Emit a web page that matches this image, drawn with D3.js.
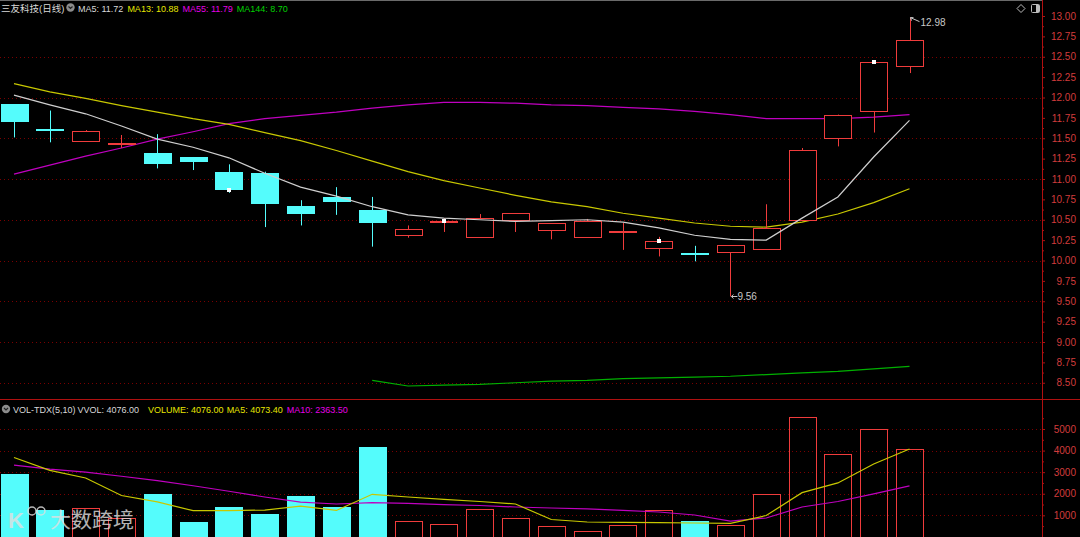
<!DOCTYPE html>
<meta charset="utf-8">
<style>
  body { margin: 0; background: #000; overflow: hidden; }
  svg { display: block; font-family: "Liberation Sans", Arial, "Noto Sans CJK SC", sans-serif; }
</style>
<body>
<script src="https://d3js.org/d3.v7.min.js"></script>
<script>

// daily candles, oldest first
const open  = [11.92, 11.61, 11.47, 11.42, 11.32, 11.27, 11.09, 11.07, 10.67, 10.78, 10.62, 10.31, 10.47, 10.29, 10.50, 10.37, 10.29, 10.34, 10.15, 10.09, 10.10, 10.14, 10.50, 11.50, 11.83, 12.39];
const high  = [11.92, 11.84, 11.60, 11.54, 11.55, 11.27, 11.18, 11.09, 10.74, 10.90, 10.78, 10.43, 10.52, 10.57, 10.58, 10.46, 10.51, 10.46, 10.29, 10.18, 10.19, 10.69, 11.38, 11.79, 12.44, 12.98];
const low   = [11.51, 11.45, 11.46, 11.38, 11.13, 11.11, 10.83, 10.41, 10.43, 10.56, 10.17, 10.28, 10.35, 10.29, 10.35, 10.26, 10.29, 10.13, 10.05, 9.99, 9.56, 10.14, 10.50, 11.40, 11.57, 12.30];
const close = [11.70, 11.58, 11.59, 11.43, 11.18, 11.21, 10.87, 10.69, 10.57, 10.72, 10.46, 10.39, 10.48, 10.52, 10.58, 10.46, 10.48, 10.35, 10.24, 10.07, 10.19, 10.40, 11.35, 11.79, 12.43, 12.71];

// moving averages
const ma5   = [12.03, 11.91, 11.80, 11.65, 11.49, 11.39, 11.26, 11.07, 10.90, 10.79, 10.66, 10.56, 10.52, 10.50, 10.48, 10.49, 10.50, 10.47, 10.40, 10.31, 10.26, 10.25, 10.52, 10.78, 11.27, 11.72];
const ma13  = [12.17, 12.07, 11.99, 11.90, 11.82, 11.74, 11.67, 11.57, 11.47, 11.35, 11.22, 11.09, 10.98, 10.89, 10.80, 10.72, 10.66, 10.58, 10.52, 10.46, 10.42, 10.41, 10.47, 10.57, 10.71, 10.88];
const ma55  = [11.06, 11.17, 11.28, 11.38, 11.49, 11.58, 11.68, 11.74, 11.78, 11.82, 11.87, 11.91, 11.94, 11.94, 11.93, 11.91, 11.90, 11.88, 11.86, 11.83, 11.79, 11.74, 11.74, 11.74, 11.76, 11.79];
const ma144 = [null, null, null, null, null, null, null, null, null, null, 8.53, 8.46, 8.47, 8.48, 8.50, 8.52, 8.53, 8.55, 8.56, 8.57, 8.58, 8.60, 8.62, 8.64, 8.67, 8.70];

// volume panel
const volume  = [2900, 1250, 1325, 860, 1990, 680, 1370, 1060, 1890, 1370, 4170, 740, 605, 1290, 860, 500, 290, 540, 1250, 720, 565, 1975, 5560, 3830, 5000, 4076];
const volMa5  = [3680, 3080, 2730, 1920, 1620, 1215, 1215, 1245, 1430, 1225, 1975, 1850, 1735, 1640, 1525, 805, 690, 675, 665, 645, 630, 990, 2050, 2500, 3380, 4073.4];
const volMa10 = [3330, 3145, 3005, 2810, 2610, 2370, 2115, 1850, 1615, 1525, 1585, 1550, 1500, 1455, 1385, 1340, 1295, 1225, 1155, 1015, 735, 875, 1385, 1640, 1990, 2363.5];

// candles with a white marker on the close
const marked = [6, 12, 18, 24];

const priceTicks = d3.range(8.5, 13.001, 0.25);
const priceGrid  = d3.range(8.5, 12.501, 0.5);
const volTicks   = [1000, 2000, 3000, 4000, 5000];

const W = 1080, H = 537;
const axisX = 1042;
const RED = "#f03c3c", CYAN = "#54fcfc", GRID = "#7a0000", AXIS = "#b01010", LABEL = "#d23c3c";

const svg = d3.select("body").append("svg")
  .attr("width", W).attr("height", H);

svg.append("rect").attr("width", W).attr("height", H).attr("fill", "#000");

const idx = d3.range(close.length);
const x = d3.scalePoint().domain(idx).range([14, 909.5]);
const y = d3.scaleLinear().domain([8.5, 13]).range([382.75, 16]);
const yv = d3.scaleLinear().domain([0, 5000]).range([536.9, 429]);
const half = 13.5;
const px = v => Math.round(v) + 0.5;

// frame lines
svg.append("line").attr("x1", 0).attr("x2", axisX).attr("y1", 0.5).attr("y2", 0.5)
  .attr("stroke", "#6a6a6a");
svg.append("line").attr("x1", 0).attr("x2", W).attr("y1", 399.5).attr("y2", 399.5)
  .attr("stroke", AXIS);
svg.append("line").attr("x1", axisX + 0.5).attr("x2", axisX + 0.5).attr("y1", 0).attr("y2", H)
  .attr("stroke", AXIS);

// dotted grid
svg.append("g").selectAll("line").data(priceGrid).join("line")
  .attr("x1", 0).attr("x2", axisX)
  .attr("y1", d => px(y(d))).attr("y2", d => px(y(d)))
  .attr("stroke", GRID).attr("stroke-dasharray", "1,3");
svg.append("g").selectAll("line").data(volTicks).join("line")
  .attr("x1", 0).attr("x2", axisX)
  .attr("y1", d => px(yv(d))).attr("y2", d => px(yv(d)))
  .attr("stroke", GRID).attr("stroke-dasharray", "1,3");

// right axes
function styleAxis(g) {
  g.select(".domain").remove();
  g.selectAll(".tick line").attr("stroke", AXIS);
  g.selectAll(".tick text").attr("fill", LABEL).attr("text-anchor", "end")
    .attr("x", 34).style("font-size", "10px").style("font-family", "'Liberation Sans', Arial, sans-serif");
}
svg.append("g").attr("transform", `translate(${axisX},0)`)
  .call(d3.axisRight(y).tickValues(priceTicks).tickFormat(d3.format(".2f")).tickSize(3).tickSizeOuter(0))
  .call(styleAxis);
svg.append("g").attr("transform", `translate(${axisX},0)`)
  .call(d3.axisRight(y).tickValues(priceTicks.slice(0, -1).map(d => d + 0.125)).tickFormat("").tickSize(2).tickSizeOuter(0))
  .call(styleAxis);
svg.append("g").attr("transform", `translate(${axisX},0)`)
  .call(d3.axisRight(yv).tickValues(volTicks).tickFormat(d3.format("d")).tickSize(3).tickSizeOuter(0))
  .call(styleAxis);
svg.append("g").attr("transform", `translate(${axisX},0)`)
  .call(d3.axisRight(yv).tickValues(volTicks.map(d => d - 500).concat([5500])).tickFormat("").tickSize(2).tickSizeOuter(0))
  .call(styleAxis);

// moving average lines
function maLine(data, scale, color) {
  svg.append("path")
    .datum(data.map((v, i) => [i, v]))
    .attr("fill", "none").attr("stroke", color).attr("stroke-width", 1.2)
    .attr("d", d3.line().defined(d => d[1] != null).x(d => x(d[0])).y(d => scale(d[1])));
}
maLine(ma55, y, "#c000c0");
maLine(ma13, y, "#c8c800");
maLine(ma144, y, "#00b000");

// candles
const isUp = i => close[i] >= open[i];
const cg = svg.append("g");
cg.selectAll("line").data(idx).join("line")
  .attr("x1", i => px(x(i))).attr("x2", i => px(x(i)))
  .attr("y1", i => y(high[i])).attr("y2", i => y(low[i]))
  .attr("stroke", i => isUp(i) ? RED : CYAN);
cg.selectAll("rect.body").data(idx).join("rect").attr("class", "body")
  .each(function (i) {
    const top = y(Math.max(open[i], close[i])), bot = y(Math.min(open[i], close[i]));
    const r = d3.select(this);
    if (isUp(i) && bot - top >= 2) {
      r.attr("x", Math.round(x(i) - half) + 0.5).attr("width", 27)
        .attr("y", Math.round(top) + 0.5).attr("height", Math.round(bot) - Math.round(top))
        .attr("fill", "#000").attr("stroke", RED);
    } else {
      const h = Math.max(2, bot - top);
      r.attr("x", Math.round(x(i) - half)).attr("width", 28)
        .attr("y", Math.round((top + bot) / 2 - h / 2)).attr("height", Math.round(h))
        .attr("fill", isUp(i) ? RED : CYAN);
    }
  });

maLine(ma5, y, "#cfcfcf");

// white close markers
cg.selectAll("rect.mark").data(marked).join("rect").attr("class", "mark")
  .attr("x", i => Math.round(x(i)) - 2).attr("y", i => Math.round(y(close[i])) - 2)
  .attr("width", 4).attr("height", 4).attr("fill", "#fff");

// high / low annotations
const hi = d3.maxIndex(high), lo = d3.minIndex(low);
svg.append("path")
  .attr("d", `M${px(x(hi))},${y(high[hi])}l9,4M${px(x(hi))},${y(high[hi])}l3,0M${px(x(hi))},${y(high[hi])}l1,3`)
  .attr("stroke", "#c8c8c8").attr("fill", "none");
svg.append("text").attr("x", x(hi) + 11).attr("y", y(high[hi]) + 8)
  .attr("fill", "#c8c8c8").style("font-size", "10px").text(high[hi].toFixed(2));
svg.append("path")
  .attr("d", `M${x(lo) + 1},${px(y(low[lo]))}h6M${x(lo) + 1},${px(y(low[lo]))}l2,-2M${x(lo) + 1},${px(y(low[lo]))}l2,2`)
  .attr("stroke", "#c8c8c8").attr("fill", "none");
svg.append("text").attr("x", x(lo) + 7).attr("y", y(low[lo]) + 4)
  .attr("fill", "#c8c8c8").style("font-size", "10px").text(low[lo].toFixed(2));

// volume bars
const vg = svg.append("g");
vg.selectAll("rect").data(idx).join("rect")
  .each(function (i) {
    const r = d3.select(this);
    const top = Math.round(yv(volume[i]));
    if (isUp(i)) {
      r.attr("x", Math.round(x(i) - half) + 0.5).attr("width", 27)
        .attr("y", top + 0.5).attr("height", H + 5 - top)
        .attr("fill", "none").attr("stroke", RED);
    } else {
      r.attr("x", Math.round(x(i) - half)).attr("width", 28)
        .attr("y", top).attr("height", H + 5 - top).attr("fill", CYAN);
    }
  });
maLine(volMa10, yv, "#c000c0");
maLine(volMa5, yv, "#c8c800");

// legends: texts flow left to right with small gaps
function icon(cx, cy) {
  svg.append("circle").attr("cx", cx).attr("cy", cy).attr("r", 4.2).attr("fill", "#8c8c8c");
  svg.append("path").attr("d", `M${cx - 2},${cy - 1}l2,2l2,-2`).attr("stroke", "#222")
    .attr("stroke-width", 1.2).attr("fill", "none");
}
function legend(startX, ty, items) {
  let cx = startX;
  items.forEach(([color, str, gap]) => {
    const t = svg.append("text").attr("x", cx).attr("y", ty).attr("fill", color)
      .style("font-size", "9px").text(str);
    cx += t.node().getComputedTextLength() + gap;
  });
}
const last = close.length - 1;
svg.append("text").attr("x", 1).attr("y", 11.5).attr("fill", "#d8d8d8")
  .style("font-size", "9.5px").text("三友科技(日线)");
icon(70.5, 7.5);
legend(78, 11.5, [
  ["#d8d8d8", "MA5: " + ma5[last].toFixed(2), 4],
  ["#e6e600", "MA13: " + ma13[last].toFixed(2), 4],
  ["#e600e6", "MA55: " + ma55[last].toFixed(2), 4],
  ["#00d200", "MA144: " + ma144[last].toFixed(2), 4]
]);

icon(6, 409);
legend(13, 412.5, [
  ["#d8d8d8", "VOL-TDX(5,10)", 2],
  ["#d8d8d8", "VVOL: " + volume[last].toFixed(2), 9],
  ["#e6e600", "VOLUME: " + volume[last].toFixed(2), 3],
  ["#e6e600", "MA5: " + volMa5[last].toFixed(2), 4],
  ["#e600e6", "MA10: " + volMa10[last].toFixed(2), 4]
]);

// top-right toolbar icons
svg.append("path").attr("d", "M1021,4.5l4,4l-4,4l-4,-4z").attr("fill", "none").attr("stroke", "#bbb");
svg.append("rect").attr("x", 1031.5).attr("y", 4.5).attr("width", 8).attr("height", 8).attr("rx", 1)
  .attr("fill", "none").attr("stroke", "#bbb");
svg.append("rect").attr("x", 1036).attr("y", 5).attr("width", 3).attr("height", 7).attr("fill", "#bbb");

// watermark
const wm = svg.append("g").attr("opacity", 0.8);
wm.append("text").attr("x", 8).attr("y", 528).attr("fill", "#e0e0e0")
  .style("font-size", "22px").style("font-weight", "bold").text("K");
wm.append("circle").attr("cx", 32).attr("cy", 511).attr("r", 4).attr("fill", "none").attr("stroke", "#e0e0e0").attr("stroke-width", 1.5);
wm.append("circle").attr("cx", 41).attr("cy", 511).attr("r", 4).attr("fill", "none").attr("stroke", "#e0e0e0").attr("stroke-width", 1.5);
wm.append("text").attr("x", 50).attr("y", 527).attr("fill", "#e0e0e0")
  .style("font-size", "21px").style("font-family", "'Noto Sans CJK SC', sans-serif").text("大数跨境");

</script>
</body>
